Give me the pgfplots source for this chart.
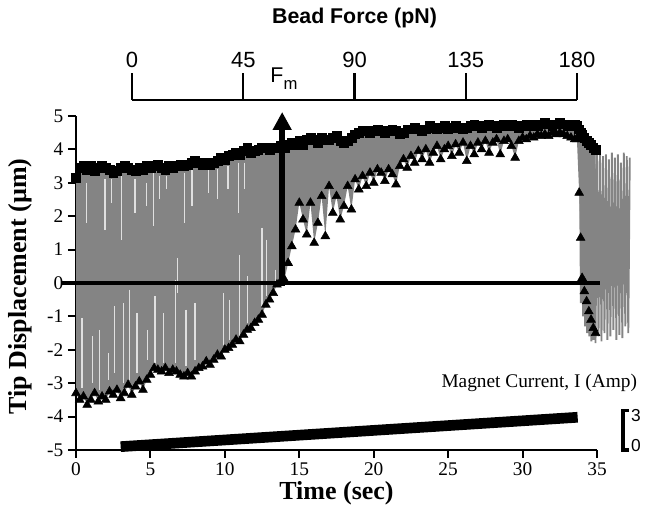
\documentclass[border=0pt]{standalone}
\usepackage{pgfplots}
\pgfplotsset{compat=1.18}
\usepgfplotslibrary{fillbetween}
\usetikzlibrary{arrows.meta}
\usepackage{fontspec}
\setmainfont{Liberation Serif}
\newfontfamily\arial{Liberation Sans}
\definecolor{sig}{RGB}{132,132,132}

% tip displacement envelopes: upper peaks (squares), lower peaks (triangles)
\pgfplotstableread{
t hi lo
0 3.15 -3.3
0.25 3.45 -3.5
0.5 3.5 -3.4
0.75 3.4 -3.65
1 3.5 -3.5
1.25 3.35 -3.3
1.5 3.45 -3.55
1.75 3.5 -3.4
2 3.45 -3.5
2.25 3.4 -3.25
2.5 3.3 -3.35
2.75 3.35 -3.2
3 3.45 -3.45
3.25 3.5 -3.3
3.5 3.45 -3.05
3.75 3.4 -3.35
4 3.35 -3.1
4.25 3.45 -2.95
4.5 3.4 -3.2
4.75 3.5 -2.9
5 3.45 -2.75
5.25 3.5 -2.55
5.5 3.55 -2.6
5.75 3.45 -2.65
6 3.4 -2.55
6.25 3.5 -2.7
6.5 3.45 -2.6
6.75 3.5 -2.65
7 3.55 -2.75
7.25 3.5 -2.8
7.5 3.55 -2.7
7.75 3.6 -2.8
8 3.65 -2.65
8.25 3.6 -2.55
8.5 3.55 -2.5
8.75 3.6 -2.35
9 3.55 -2.45
9.25 3.6 -2.3
9.5 3.65 -2.15
9.75 3.75 -2.2
10 3.7 -2.0
10.25 3.8 -1.95
10.5 3.85 -1.85
10.75 3.9 -1.7
11 3.85 -1.75
11.25 3.95 -1.55
11.5 4.05 -1.4
11.75 3.9 -1.35
12 3.95 -1.2
12.25 4.0 -1.1
12.5 4.05 -0.95
12.75 4.05 -0.65
13 4.0 -0.5
13.25 4.05 -0.3
13.5 4.05 -0.05
13.75 4.1 0.05
14 4.05 0.1
14.25 4.15 0.6
14.5 4.2 1.1
14.75 4.15 1.6
15 4.25 2.4
15.25 4.15 1.9
15.5 4.3 1.45
15.75 4.35 2.4
16 4.3 1.2
16.25 4.2 1.8
16.5 4.35 2.6
16.75 4.3 1.4
17 4.3 2.9
17.25 4.35 2.1
17.5 4.4 2.6
17.75 4.25 1.9
18 4.2 2.3
18.25 4.25 2.9
18.5 4.35 2.2
18.75 4.45 3.1
19 4.5 2.8
19.25 4.55 3.2
19.5 4.55 2.9
19.75 4.5 3.3
20 4.55 3.0
20.25 4.6 3.4
20.5 4.55 3.3
20.75 4.5 3.05
21 4.55 3.4
21.25 4.6 3.25
21.5 4.55 2.95
21.75 4.45 3.5
22 4.5 3.7
22.25 4.6 3.45
22.5 4.6 3.8
22.75 4.65 3.6
23 4.6 3.95
23.25 4.55 3.7
23.5 4.6 4.0
23.75 4.7 3.6
24 4.65 3.9
24.25 4.6 4.1
24.5 4.65 3.7
24.75 4.7 4.0
25 4.6 4.1
25.25 4.65 3.8
25.5 4.7 4.15
25.75 4.65 3.9
26 4.6 4.2
26.25 4.65 3.65
26.5 4.7 4.1
26.75 4.75 3.85
27 4.7 4.2
27.25 4.65 4.0
27.5 4.7 4.25
27.75 4.75 3.9
28 4.7 4.2
28.25 4.65 4.3
28.5 4.7 3.85
28.75 4.75 4.25
29 4.7 4.3
29.25 4.75 4.1
29.5 4.7 3.75
29.75 4.65 4.25
30 4.7 4.35
30.25 4.75 4.3
30.5 4.7 4.4
30.75 4.75 4.35
31 4.7 4.45
31.25 4.75 4.4
31.5 4.8 4.45
31.75 4.75 4.4
32 4.7 4.5
32.25 4.75 4.45
32.5 4.8 4.5
32.75 4.75 4.45
33 4.7 4.4
33.25 4.75 4.35
33.5 4.75 4.3
33.65 4.7 4.3
33.8 4.6 2.7
33.9 4.5 1.35
34.0 4.45 0.15
34.15 4.35 -0.25
34.3 4.25 -0.55
34.45 4.2 -0.85
34.6 4.15 -1.1
34.75 4.05 -1.35
34.9 4.0 -1.5
}\env

\begin{document}
\begin{tikzpicture}
\begin{axis}[
  name=main,
  scale only axis, width=390.75pt, height=250.5pt,
  xmin=0, xmax=35, ymin=-5, ymax=5,
  clip=false,
  axis x line*=bottom, axis y line*=left,
  axis line style={line width=1.6pt},
  xtick={0,5,...,35}, ytick={-5,-4,...,5},
  tick align=outside, major tick length=6pt,
  tick style={line width=1.4pt, black},
  ticklabel style={font=\fontsize{14.5}{16}\selectfont},
  /pgf/number format/assume math mode=true,
  xlabel={\bfseries Time (sec)},
  xlabel style={font=\fontsize{19.5}{22}\selectfont, at={(axis description cs:0.5,-0.13)}, anchor=center},
  ylabel={\bfseries Tip Displacement (µm)},
  ylabel style={font=\fontsize{19.5}{22}\selectfont, at={(axis description cs:-0.107,0.49)}, anchor=center},
  unbounded coords=jump,
]
% envelopes and the grey oscillation band between them
\addplot[name path=hi, draw=none, forget plot] table[x=t, y=hi] {\env};
\addplot[name path=lo, draw=none, forget plot] table[x=t, y=lo] {\env};
\addplot[sig, forget plot] fill between[of=hi and lo];
% sparse oscillation after the field is switched off
\addplot[sig, line width=1.4pt] coordinates {
(33.85,4.0) (33.92,-0.6) (33.99,3.95) (34.06,-1.0) (34.13,3.9) (34.2,-1.3)
(34.27,3.95) (34.34,-1.5) (34.41,3.85) (34.48,-1.6) (34.55,3.9) (34.62,-1.75)
(34.69,3.8) (34.76,-1.7) (34.83,3.9) (34.9,-1.8) (35.0,3.85) (35.1,-1.6)
(35.2,3.9) (35.3,-1.75) (35.4,3.8) (35.5,-1.5) (35.6,3.85) (35.7,-1.7)
(35.8,3.7) (35.9,-1.6) (36.0,3.9) (36.1,-1.4) (36.2,3.75) (36.3,-1.7)
(36.4,3.85) (36.5,-1.55) (36.6,3.6) (36.7,-1.65) (36.8,3.9) (36.9,-1.3)
(37.0,3.8) (37.1,-1.5) (37.2,3.75)};
% light streaks inside the dense band
\addplot[white, line width=1pt, opacity=0.75] coordinates {
(0.72,3.0) (0.72,1.8) (0.72,nan) (1.95,3.1) (1.95,1.6) (1.95,nan)
(2.4,3.1) (2.4,2.4) (2.4,nan) (3.06,3.3) (3.06,1.3) (3.06,nan)
(3.96,3.1) (3.96,2.1) (3.96,nan) (4.74,3.0) (4.74,2.3) (4.74,nan)
(5.2,3.3) (5.2,1.7) (5.2,nan) (5.6,3.2) (5.6,2.5) (5.6,nan)
(6.1,3.2) (6.1,2.8) (6.1,nan) (6.8,0.75) (6.8,-0.3) (6.8,nan)
(7.3,3.3) (7.3,1.8) (7.3,nan) (7.8,3.5) (7.8,2.3) (7.8,nan)
(8.9,3.4) (8.9,2.7) (8.9,nan) (9.5,3.4) (9.5,2.5) (9.5,nan)
(10.2,3.5) (10.2,2.8) (10.2,nan) (10.9,3.6) (10.9,2.1) (10.9,nan)
(11.3,3.6) (11.3,2.8) (11.3,nan)
(0.4,-1.05) (0.4,-3.15) (0.4,nan) (1.1,-1.6) (1.1,-3.0) (1.1,nan)
(1.6,-1.4) (1.6,-3.2) (1.6,nan) (2.2,-2.1) (2.2,-2.9) (2.2,nan)
(2.6,-0.7) (2.6,-2.7) (2.6,nan) (3.2,-0.6) (3.2,-3.0) (3.2,nan)
(3.6,-0.2) (3.6,-2.9) (3.6,nan) (4.1,-0.9) (4.1,-2.7) (4.1,nan)
(4.8,-1.4) (4.8,-2.3) (4.8,nan) (5.3,-0.4) (5.3,-2.4) (5.3,nan)
(5.9,-0.9) (5.9,-2.4) (5.9,nan) (6.7,0.1) (6.7,-2.4) (6.7,nan)
(7.4,-0.8) (7.4,-2.5) (7.4,nan) (8.0,-0.6) (8.0,-2.3) (8.0,nan)
(9.9,-0.3) (9.9,-1.85) (9.9,nan) (10.3,-0.5) (10.3,-1.7) (10.3,nan)
(11.0,0.85) (11.0,-1.6) (11.0,nan) (11.5,0.2) (11.5,-1.2) (11.5,nan)
(12.5,1.65) (12.5,-0.75) (12.5,nan) (12.8,1.3) (12.8,-0.4) (12.8,nan)
(13.4,0.4) (13.4,0.0)};
% peak markers
\addplot[only marks, mark=square*, mark size=3.3pt, black] table[x=t, y=hi] {\env};
\addplot[only marks, mark=triangle*, mark size=3.8pt, black] table[x=t, y=lo] {\env};
% zero line
\addplot[black, line width=2.5pt] coordinates {(-0.95,0) (35.2,0)};
% force at which the tip snaps over
\addplot[black, line width=4.5pt, -{Triangle[width=13.5pt,length=13.5pt]}] coordinates {(13.85,-0.1) (13.85,5.12)};
% magnet current ramp (0-3 A scale shown by the bracket)
\addplot[black, line width=8pt] coordinates {(3.0,-4.9) (18.0,-4.47) (33.7,-4.02)};
\addplot[black, line width=2.6pt] coordinates {(37.14,-3.82) (36.74,-3.82) (36.74,-5.0) (37.14,-5.0)};
\node[anchor=east, font=\fontsize{14.5}{16}\selectfont] at (axis cs:38.0,-3.0) {Magnet Current, I (Amp)};
\node[font=\arial\fontsize{13}{14}\selectfont] at (axis cs:37.62,-3.97) {3};
\node[font=\arial\fontsize{13}{14}\selectfont] at (axis cs:37.62,-4.86) {0};
\node[anchor=base, font=\arial\fontsize{16}{18}\selectfont] at (axis cs:13.97,5.99) {F\raisebox{-0.3em}{\fontsize{12.5}{14}\selectfont m}};
\end{axis}
% bead force scale on top
\begin{axis}[
  at={(main.south west)}, anchor=north west, xshift=42pt, yshift=262.5pt,
  scale only axis, width=333.75pt, height=1pt,
  xmin=0, xmax=180, ymin=0, ymax=1,
  axis x line*=top, axis y line=none,
  axis line style={line width=1.8pt},
  xtick={0,45,90,135,180},
  tick align=outside, major tick length=20pt,
  tick style={line width=1.8pt, black},
  xticklabel style={font=\arial\fontsize{16.5}{18}\selectfont, yshift=1pt},
  /pgf/number format/assume math mode=true,
  xlabel={\bfseries Bead Force (pN)},
  xlabel style={font=\arial\fontsize{16}{18}\selectfont, at={(axis description cs:0.5,1)}, anchor=center, yshift=61.5pt},
]
\addplot[draw=none] coordinates {(0,0) (180,0)};
\end{axis}
\pgfresetboundingbox
\path[use as bounding box] (main.south west) ++(-57pt,-49.5pt) rectangle ++(486pt,387pt);
\end{tikzpicture}
\end{document}
